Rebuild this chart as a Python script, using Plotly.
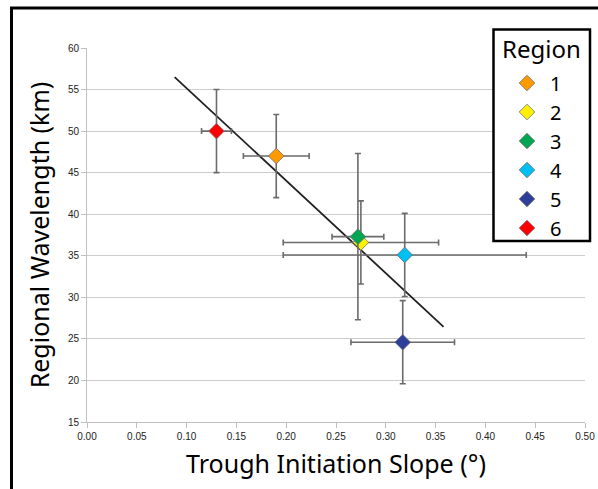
import plotly.graph_objects as go

regions = ["1", "2", "3", "4", "5", "6"]
slope = [0.190, 0.275, 0.272, 0.319, 0.317, 0.130]
slope_err = [0.033, 0.078, 0.026, 0.122, 0.052, 0.015]
wavelength = [47.0, 36.6, 37.3, 35.1, 24.6, 50.0]
wavelength_err = [5.0, 5.0, 10.0, 5.0, 5.0, 5.0]
colors = ["#FF9900", "#FFF200", "#00A651", "#00BFF3", "#2E3F9A", "#FF0000"]

trend_x = [0.088, 0.358]
trend_y = [56.5, 26.45]

x_ticks = [0.00, 0.05, 0.10, 0.15, 0.20, 0.25, 0.30, 0.35, 0.40, 0.45, 0.50]
y_ticks = [15, 20, 25, 30, 35, 40, 45, 50, 55, 60]

W, H = 598, 489
ML, MR, MT, MB = 87, 13, 48, 67
pw = W - ML - MR
ph = H - MT - MB

fig = go.Figure()

fig.add_trace(go.Scatter(
    x=trend_x, y=trend_y, mode="lines",
    line=dict(color="#231f20", width=1.8),
    showlegend=False, hoverinfo="skip",
))

# drawing order: yellow (2) before green (3) so green sits on top
draw_order = [5, 0, 1, 2, 3, 4]
for i in draw_order:
    fig.add_trace(go.Scatter(
        x=[slope[i]], y=[wavelength[i]],
        mode="markers",
        name=regions[i],
        legendrank=i + 1,
        marker=dict(symbol="diamond", size=12, color=colors[i],
                    line=dict(color="#6d6d6d", width=0.8)),
        error_x=dict(type="constant", value=slope_err[i], color="#6b6b6b",
                     thickness=1.6, width=3),
        error_y=dict(type="constant", value=wavelength_err[i], color="#6b6b6b",
                     thickness=1.6, width=3),
    ))

def px_to_paper_x(px):
    return (px - ML) / pw

def px_to_paper_y(py):
    return (H - MB - py) / ph

# outer frame
fig.add_shape(
    type="rect", xref="paper", yref="paper",
    x0=px_to_paper_x(11.5), x1=px_to_paper_x(640),
    y0=px_to_paper_y(540), y1=px_to_paper_y(8),
    line=dict(color="black", width=3), fillcolor="rgba(0,0,0,0)",
    layer="above",
)
# legend box
fig.add_shape(
    type="rect", xref="paper", yref="paper",
    x0=px_to_paper_x(493.5), x1=px_to_paper_x(590),
    y0=px_to_paper_y(241), y1=px_to_paper_y(29.5),
    line=dict(color="black", width=2.5), fillcolor="white",
    layer="above",
)
# legend title
fig.add_annotation(
    text="Region", xref="paper", yref="paper",
    x=px_to_paper_x(541), y=px_to_paper_y(48),
    xanchor="center", yanchor="middle", showarrow=False,
    font=dict(family="Noto Sans, Open Sans, sans-serif", size=24, color="black"),
)

tick_font = dict(family="Liberation Sans, Arial, sans-serif", size=10, color="#222222")
title_font = dict(family="Noto Sans, Open Sans, sans-serif", size=25, color="black")

fig.update_layout(
    width=W, height=H,
    margin=dict(l=ML, r=MR, t=MT, b=MB, autoexpand=False),
    paper_bgcolor="white", plot_bgcolor="white",
    xaxis=dict(
        range=[0, 0.5], tickvals=x_ticks, tickformat=".2f",
        showgrid=False, zeroline=False,
        showline=True, linecolor="#c0c0c0", linewidth=1,
        ticks="outside", ticklen=5, tickcolor="#c0c0c0",
        tickfont=tick_font,
        title=dict(text="Trough Initiation Slope (°)", font=title_font, standoff=14),
    ),
    yaxis=dict(
        range=[15, 60], tickvals=y_ticks,
        showgrid=True, gridcolor="#cccccc", gridwidth=1,
        zeroline=False,
        showline=True, linecolor="#c0c0c0", linewidth=1,
        ticks="outside", ticklen=5, tickcolor="#c0c0c0",
        tickfont=tick_font,
        title=dict(text="Regional Wavelength (km)", font=title_font, standoff=11),
    ),
    legend=dict(
        x=px_to_paper_x(498), y=px_to_paper_y(63.5),
        xanchor="left", yanchor="top",
        borderwidth=0, bgcolor="rgba(0,0,0,0)",
        font=dict(family="Noto Sans, Open Sans, sans-serif", size=20, color="black"),
        indentation=6,
        itemwidth=36,
        tracegroupgap=0,
    ),
)

fig.write_html(
    "out.html",
    config={"displayModeBar": False},
    post_script="document.body.style.margin='0';document.body.style.padding='0';",
)
